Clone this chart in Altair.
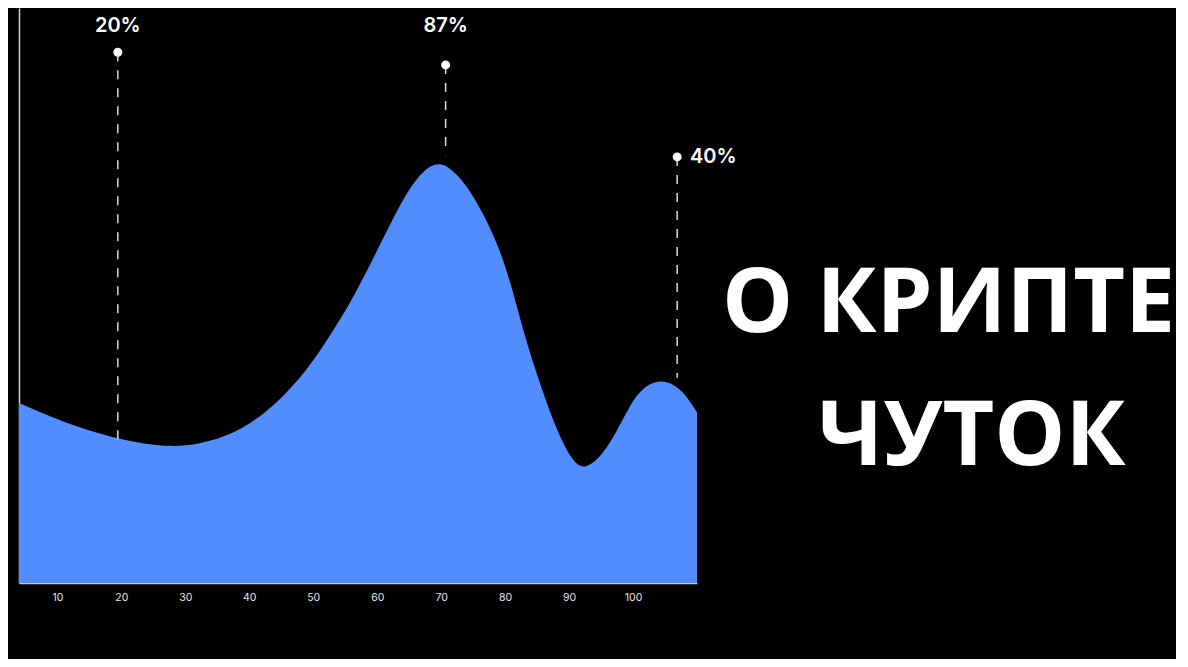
import altair as alt
import pandas as pd

# ---- data ----
curve_x = [4.0, 10.5, 19.45, 28.2, 34.0, 38.7, 43.8, 49.1, 53.2, 56.3, 59.5, 62.1,
           64.8, 67.3, 69.9, 73.0, 76.1, 78.8, 80.9, 82.9, 85.1, 87.6, 90.2, 92.4,
           96.0, 99.1, 101.2, 104.3, 107.4, 109.5, 110.0]
curve_y = [31.3, 28.1, 24.9, 23.4, 24.6, 26.6, 30.6, 37.0, 44.0, 49.7, 56.7, 62.6,
           68.3, 71.9, 73.5, 70.7, 65.4, 59.1, 52.2, 43.5, 35.8, 27.8, 21.6, 19.3,
           23.1, 30.1, 33.8, 35.6, 34.0, 30.6, 29.7]

ann_x = [19.45, 70.7, 106.9]
ann_top = [92.3, 90.1, 74.1]
ann_bottom = [24.9, 74.4, 35.7]
ann_label = ["20%", "87%", "40%"]
label_x = [19.45, 70.7, 108.9]
label_y = [96.9, 96.9, 74.1]
label_side = ["top", "top", "right"]

x_ticks = [10, 20, 30, 40, 50, 60, 70, 80, 90, 100]
title_lines = ["О КРИПТЕ", "ЧУТОК"]

BLUE = "#528DFF"

curve = pd.DataFrame({"x": curve_x, "y": curve_y})
ann = pd.DataFrame({"x": ann_x, "top": ann_top, "bottom": ann_bottom,
                    "label": ann_label, "lx": label_x, "ly": label_y,
                    "side": label_side})

xs = alt.Scale(domain=[4, 110], nice=False, zero=False)
ys = alt.Scale(domain=[0, 100], nice=False)

area = alt.Chart(curve).mark_area(color=BLUE, interpolate="basis", opacity=1).encode(
    x=alt.X("x:Q", scale=xs,
            axis=alt.Axis(values=x_ticks, title=None, grid=False, ticks=False,
                          labelFont="Inter", labelFontSize=10.5, labelColor="#e6e6e6",
                          labelPadding=9, domainColor="#c9d1dc", domainWidth=1.5)),
    y=alt.Y("y:Q", scale=ys,
            axis=alt.Axis(title=None, grid=False, ticks=False, labels=False,
                          domainColor="#d0d0d0", domainWidth=1.5)),
)

dashes = alt.Chart(ann).mark_rule(color="#d8d8d8", strokeWidth=1.5, strokeDash=[9, 9]).encode(
    x=alt.X("x:Q", scale=xs), y=alt.Y("top:Q", scale=ys), y2="bottom:Q"
)

dots = alt.Chart(ann).mark_point(filled=True, color="white", size=80, opacity=1).encode(
    x=alt.X("x:Q", scale=xs), y=alt.Y("top:Q", scale=ys)
)

labels_top = alt.Chart(ann).transform_filter("datum.side == 'top'").mark_text(
    font="Inter", fontSize=20, fontWeight=600, color="white", align="center", baseline="middle"
).encode(x=alt.X("lx:Q", scale=xs), y=alt.Y("ly:Q", scale=ys), text="label:N")

labels_right = alt.Chart(ann).transform_filter("datum.side == 'right'").mark_text(
    font="Inter", fontSize=20, fontWeight=600, color="white", align="left", baseline="middle"
).encode(x=alt.X("lx:Q", scale=xs), y=alt.Y("ly:Q", scale=ys), text="label:N")

t1 = alt.Chart(pd.DataFrame({"t": [title_lines[0]]})).mark_text(
    font="Open Sans", fontSize=89.5, fontWeight="bold", color="white", align="left", baseline="alphabetic"
).encode(text="t:N", x=alt.value(703), y=alt.value(324))

t2 = alt.Chart(pd.DataFrame({"t": [title_lines[1]]})).mark_text(
    font="Open Sans", fontSize=89.5, fontWeight="bold", color="white", align="left", baseline="alphabetic"
).encode(text="t:N", x=alt.value(799), y=alt.value(457))

chart = alt.layer(area, dashes, dots, labels_top, labels_right, t1, t2).properties(
    width=678, height=575, background="#000000",
    padding={"left": 11, "top": 0, "right": 0, "bottom": 56},
).configure_view(stroke=None)

chart.save("out.html", embed_options={"renderer": "svg", "actions": False})
